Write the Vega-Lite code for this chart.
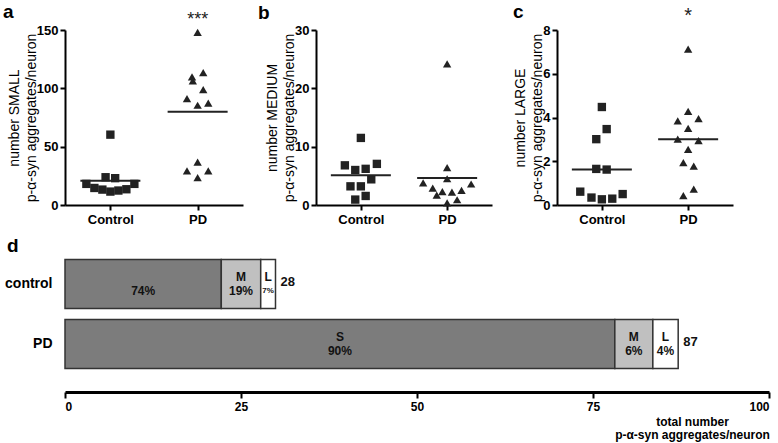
{
  "$schema": "https://vega.github.io/schema/vega-lite/v6.json",
  "padding": {"left": 3, "top": 2, "right": 5, "bottom": 3},
  "background": "white",
  "config": {
    "font": "Liberation Sans",
    "view": {"stroke": null},
    "axis": {"domainColor": "#000", "tickColor": "#000", "labelColor": "#000", "titleColor": "#000", "grid": false, "domainWidth": 2, "tickWidth": 2, "tickSize": 5, "labelFontWeight": "bold", "labelFontSize": 13, "labelFont": "Liberation Sans", "titleFont": "Liberation Sans"},
    "title": {"color": "#000", "font": "Liberation Sans"}
  },
  "datasets": {
    "small": [
      {"group": "Control", "value": 60.3, "col": 0},
      {"group": "Control", "value": 23.8, "col": -0.6},
      {"group": "Control", "value": 23.0, "col": 0.6},
      {"group": "Control", "value": 18.1, "col": -3},
      {"group": "Control", "value": 18.1, "col": 3},
      {"group": "Control", "value": 14.6, "col": -2},
      {"group": "Control", "value": 13.2, "col": -1},
      {"group": "Control", "value": 11.5, "col": 0},
      {"group": "Control", "value": 12.4, "col": 1},
      {"group": "Control", "value": 13.5, "col": 2},
      {"group": "PD", "value": 147.9, "col": 0},
      {"group": "PD", "value": 113.5, "col": 0.7},
      {"group": "PD", "value": 109.8, "col": -0.7},
      {"group": "PD", "value": 106.4, "col": -0.6},
      {"group": "PD", "value": 98.9, "col": 0.7},
      {"group": "PD", "value": 91.1, "col": -1.33},
      {"group": "PD", "value": 87.4, "col": 1.33},
      {"group": "PD", "value": 85.5, "col": 0},
      {"group": "PD", "value": 36.7, "col": 0},
      {"group": "PD", "value": 29.2, "col": -1.33},
      {"group": "PD", "value": 29.2, "col": 1.33},
      {"group": "PD", "value": 23.5, "col": 0}
    ],
    "medium": [
      {"group": "Control", "value": 11.5, "col": 0},
      {"group": "Control", "value": 6.8, "col": -2},
      {"group": "Control", "value": 6.0, "col": -0.7},
      {"group": "Control", "value": 6.2, "col": 0.6},
      {"group": "Control", "value": 7.05, "col": 2},
      {"group": "Control", "value": 4.4, "col": 1.3},
      {"group": "Control", "value": 3.2, "col": -1.3},
      {"group": "Control", "value": 3.2, "col": 0},
      {"group": "Control", "value": 1.55, "col": 0.6},
      {"group": "Control", "value": 0.93, "col": -0.7},
      {"group": "PD", "value": 24.2, "col": 0},
      {"group": "PD", "value": 6.4, "col": 0},
      {"group": "PD", "value": 4.5, "col": 0},
      {"group": "PD", "value": 3.8, "col": -3},
      {"group": "PD", "value": 3.6, "col": 3},
      {"group": "PD", "value": 2.9, "col": -1.8},
      {"group": "PD", "value": 2.3, "col": -0.6},
      {"group": "PD", "value": 2.2, "col": 0.6},
      {"group": "PD", "value": 2.5, "col": 1.8},
      {"group": "PD", "value": 1.7, "col": -1.3},
      {"group": "PD", "value": 0.9, "col": 1.25},
      {"group": "PD", "value": 0.35, "col": 0}
    ],
    "large": [
      {"group": "Control", "value": 4.48, "col": 0},
      {"group": "Control", "value": 3.47, "col": 0.6},
      {"group": "Control", "value": 3.01, "col": -0.7},
      {"group": "Control", "value": 1.65, "col": -0.7},
      {"group": "Control", "value": 1.62, "col": 0.6},
      {"group": "Control", "value": 0.61, "col": -2.7},
      {"group": "Control", "value": 0.34, "col": -1.3},
      {"group": "Control", "value": 0.26, "col": 0},
      {"group": "Control", "value": 0.29, "col": 1.3},
      {"group": "Control", "value": 0.5, "col": 2.6},
      {"group": "PD", "value": 7.13, "col": 0},
      {"group": "PD", "value": 4.28, "col": 0},
      {"group": "PD", "value": 3.85, "col": -1.3},
      {"group": "PD", "value": 3.95, "col": 1.3},
      {"group": "PD", "value": 3.5, "col": 0},
      {"group": "PD", "value": 3.01, "col": -1.3},
      {"group": "PD", "value": 2.94, "col": 1.3},
      {"group": "PD", "value": 2.54, "col": 0},
      {"group": "PD", "value": 1.94, "col": -0.6},
      {"group": "PD", "value": 1.78, "col": 0.7},
      {"group": "PD", "value": 0.73, "col": 0.7},
      {"group": "PD", "value": 0.43, "col": -0.6}
    ],
    "bars": [
      {"group": "control", "size": "S", "rank": 1, "value": 22.2, "code": "", "pct": "74%", "n": "28"},
      {"group": "control", "size": "M", "rank": 2, "value": 5.6, "code": "M", "pct": "19%", "n": "28"},
      {"group": "control", "size": "L", "rank": 3, "value": 2.1, "code": "L", "pct": "7%", "n": "28"},
      {"group": "PD", "size": "S", "rank": 1, "value": 78.1, "code": "S", "pct": "90%", "n": "87"},
      {"group": "PD", "size": "M", "rank": 2, "value": 5.4, "code": "M", "pct": "6%", "n": "87"},
      {"group": "PD", "size": "L", "rank": 3, "value": 3.6, "code": "L", "pct": "4%", "n": "87"}
    ]
  },
  "spacing": 11,
  "vconcat": [
    {
      "bounds": "flush",
      "spacing": 73,
      "hconcat": [
        {
          "width": 178, "height": 175,
          "title": {"text": "a", "anchor": "start", "frame": "group", "dx": -62, "fontSize": 19, "fontWeight": "bold", "baseline": "alphabetic", "offset": -26},
          "data": {"name": "small"},
          "layer": [
            {
              "mark": {"type": "point", "filled": true, "size": 70, "color": "#222", "opacity": 1},
              "encoding": {
                "x": {"field": "group", "type": "nominal", "scale": {"type": "point", "padding": 0.52, "domain": ["Control", "PD"]}, "axis": {"title": null, "labelAngle": 0, "labelPadding": 3}},
                "y": {"field": "value", "type": "quantitative", "scale": {"domain": [0, 150], "nice": false}, "axis": {"values": [0, 50, 100, 150], "title": ["number SMALL", "p-α-syn aggregates/neuron"], "titleFontWeight": "normal", "titleFontSize": 14, "titleLineHeight": 17, "titlePadding": -2, "labelPadding": 2}},
                "xOffset": {"field": "col", "type": "quantitative", "scale": {"domain": [-4, 4], "range": [-32, 32]}},
                "shape": {"field": "group", "type": "nominal", "scale": {"domain": ["Control", "PD"], "range": ["square", "triangle-up"]}, "legend": null}
              }
            },
            {
              "mark": {"type": "tick", "size": 60, "thickness": 2, "color": "#222", "opacity": 1},
              "transform": [{"aggregate": [{"op": "mean", "field": "value", "as": "value"}], "groupby": ["group"]}],
              "encoding": {
                "x": {"field": "group", "type": "nominal"},
                "y": {"field": "value", "type": "quantitative"}
              }
            },
            {
              "data": {"values": [{"group": "PD", "value": 154.7, "sig": "***"}]},
              "mark": {"type": "text", "fontSize": 18, "baseline": "alphabetic", "color": "#222"},
              "encoding": {
                "x": {"field": "group", "type": "nominal"},
                "y": {"field": "value", "type": "quantitative"},
                "text": {"field": "sig"}
              }
            }
          ]
        },
        {
          "bounds": "flush",
          "spacing": 65,
          "hconcat": [
            {
              "width": 176, "height": 175,
              "title": {"text": "b", "anchor": "start", "frame": "group", "dx": -58, "fontSize": 19, "fontWeight": "bold", "baseline": "alphabetic", "offset": -14},
              "data": {"name": "medium"},
              "layer": [
                {
                  "mark": {"type": "point", "filled": true, "size": 70, "color": "#222", "opacity": 1},
                  "encoding": {
                    "x": {"field": "group", "type": "nominal", "scale": {"type": "point", "padding": 0.52, "domain": ["Control", "PD"]}, "axis": {"title": null, "labelAngle": 0, "labelPadding": 3}},
                    "y": {"field": "value", "type": "quantitative", "scale": {"domain": [0, 30], "nice": false}, "axis": {"values": [0, 10, 20, 30], "title": ["number MEDIUM", "p-α-syn aggregates/neuron"], "titleFontWeight": "normal", "titleFontSize": 14, "titleLineHeight": 17, "titlePadding": -2, "labelPadding": 2}},
                    "xOffset": {"field": "col", "type": "quantitative", "scale": {"domain": [-4, 4], "range": [-32, 32]}},
                    "shape": {"field": "group", "type": "nominal", "scale": {"domain": ["Control", "PD"], "range": ["square", "triangle-up"]}, "legend": null}
                  }
                },
                {
                  "mark": {"type": "tick", "size": 60, "thickness": 2, "color": "#222", "opacity": 1},
                  "transform": [{"aggregate": [{"op": "mean", "field": "value", "as": "value"}], "groupby": ["group"]}],
                  "encoding": {
                    "x": {"field": "group", "type": "nominal"},
                    "y": {"field": "value", "type": "quantitative"}
                  }
                }
              ]
            },
            {
              "width": 176, "height": 175,
              "title": {"text": "c", "anchor": "start", "frame": "group", "dx": -44, "fontSize": 19, "fontWeight": "bold", "baseline": "alphabetic", "offset": -31},
              "data": {"name": "large"},
              "layer": [
                {
                  "mark": {"type": "point", "filled": true, "size": 70, "color": "#222", "opacity": 1},
                  "encoding": {
                    "x": {"field": "group", "type": "nominal", "scale": {"type": "point", "padding": 0.52, "domain": ["Control", "PD"]}, "axis": {"title": null, "labelAngle": 0, "labelPadding": 3}},
                    "y": {"field": "value", "type": "quantitative", "scale": {"domain": [0, 8], "nice": false}, "axis": {"values": [0, 2, 4, 6, 8], "title": ["number LARGE", "p-α-syn aggregates/neuron"], "titleFontWeight": "normal", "titleFontSize": 14, "titleLineHeight": 17, "titlePadding": -2, "labelPadding": 2}},
                    "xOffset": {"field": "col", "type": "quantitative", "scale": {"domain": [-4, 4], "range": [-32, 32]}},
                    "shape": {"field": "group", "type": "nominal", "scale": {"domain": ["Control", "PD"], "range": ["square", "triangle-up"]}, "legend": null}
                  }
                },
                {
                  "mark": {"type": "tick", "size": 60, "thickness": 2, "color": "#222", "opacity": 1},
                  "transform": [{"aggregate": [{"op": "mean", "field": "value", "as": "value"}], "groupby": ["group"]}],
                  "encoding": {
                    "x": {"field": "group", "type": "nominal"},
                    "y": {"field": "value", "type": "quantitative"}
                  }
                },
                {
                  "data": {"values": [{"group": "PD", "value": 8.35, "sig": "*"}]},
                  "mark": {"type": "text", "fontSize": 20, "baseline": "alphabetic", "color": "#222"},
                  "encoding": {
                    "x": {"field": "group", "type": "nominal"},
                    "y": {"field": "value", "type": "quantitative"},
                    "text": {"field": "sig"}
                  }
                }
              ]
            }
          ]
        }
      ]
    },
    {
      "width": 704, "height": 120,
      "title": {"text": "d", "anchor": "start", "frame": "group", "dx": -58, "fontSize": 19, "fontWeight": "bold", "baseline": "alphabetic", "offset": -17},
      "data": {"name": "bars"},
      "encoding": {
        "y": {"field": "group", "type": "nominal", "sort": ["control", "PD"], "scale": {"paddingInner": 0.18, "paddingOuter": 0.09}, "axis": {"title": null, "domain": false, "ticks": false, "labelFontSize": 14, "labelPadding": 13}}
      },
      "layer": [
        {
          "mark": {"type": "bar", "stroke": "#333", "strokeWidth": 1.5},
          "encoding": {
            "x": {"field": "value", "type": "quantitative", "stack": "zero", "scale": {"domain": [0, 100], "nice": false},
              "axis": {"values": [0, 25, 50, 75, 100], "offset": 18, "domainWidth": 3, "tickWidth": 2, "tickSize": 6, "labelFontSize": 12, "labelPadding": 3,
                "title": ["total number", "p-α-syn aggregates/neuron"], "titleFontSize": 12, "titleFontWeight": "bold", "titleAnchor": null, "titleAlign": "center", "titleX": 627, "titleLineHeight": 13, "titlePadding": 4}},
            "color": {"field": "size", "type": "nominal", "scale": {"domain": ["S", "M", "L"], "range": ["#7c7c7c", "#c0c0c0", "#ffffff"]}, "legend": null},
            "order": {"field": "rank", "type": "quantitative"}
          }
        },
        {
          "transform": [
            {"stack": "value", "groupby": ["group"], "sort": [{"field": "rank"}], "as": ["x0", "x1"]},
            {"calculate": "(datum.x0 + datum.x1) / 2", "as": "mid"}
          ],
          "mark": {"type": "text", "fontWeight": "bold", "fontSize": 12, "dy": -7.5, "color": "#111"},
          "encoding": {
            "x": {"field": "mid", "type": "quantitative"},
            "text": {"field": "code"}
          }
        },
        {
          "transform": [
            {"stack": "value", "groupby": ["group"], "sort": [{"field": "rank"}], "as": ["x0", "x1"]},
            {"calculate": "(datum.x0 + datum.x1) / 2", "as": "mid"}
          ],
          "mark": {"type": "text", "fontWeight": "bold", "dy": 6.5, "color": "#111"},
          "encoding": {
            "x": {"field": "mid", "type": "quantitative"},
            "text": {"field": "pct"},
            "size": {"condition": {"test": "datum.group === 'control' && datum.size === 'L'", "value": 8}, "value": 12}
          }
        },
        {
          "transform": [
            {"stack": "value", "groupby": ["group"], "sort": [{"field": "rank"}], "as": ["x0", "x1"]},
            {"filter": "datum.rank === 3"}
          ],
          "mark": {"type": "text", "fontWeight": "bold", "fontSize": 13, "align": "left", "dx": 5, "dy": -2, "color": "#111"},
          "encoding": {
            "x": {"field": "x1", "type": "quantitative"},
            "text": {"field": "n"}
          }
        }
      ]
    }
  ]
}
